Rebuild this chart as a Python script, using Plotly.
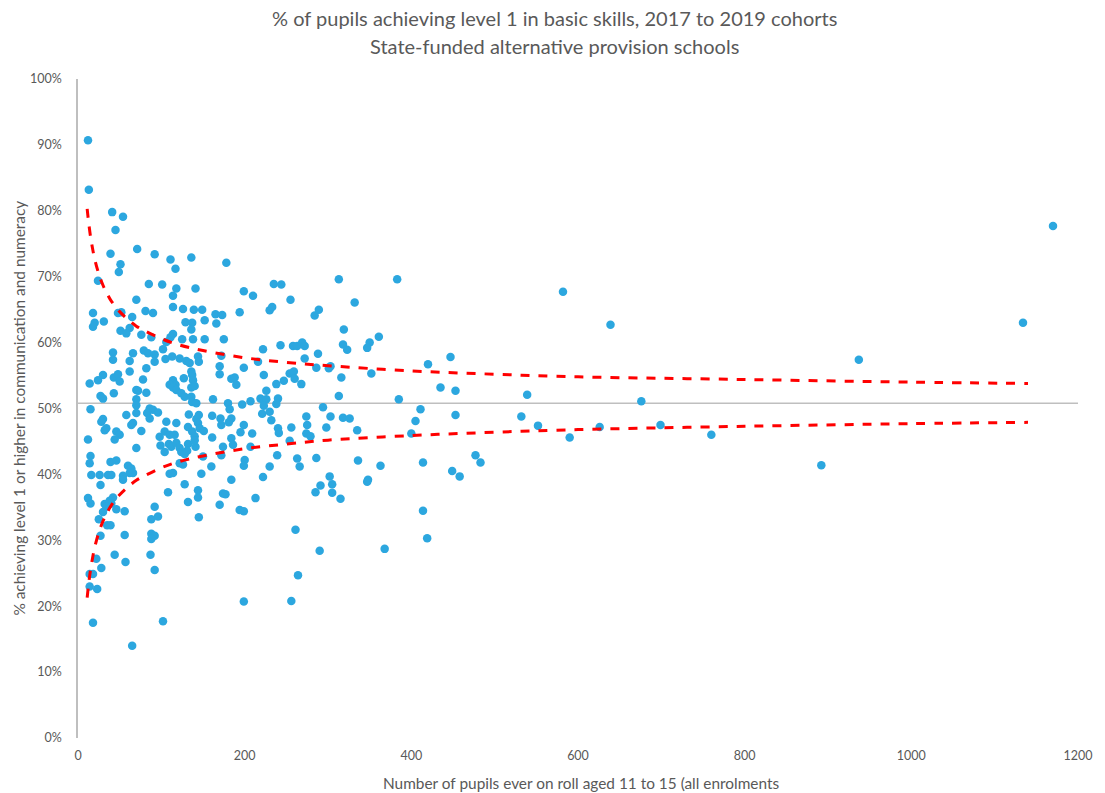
import plotly.graph_objects as go

# Schools: pupils ever on roll aged 11-15 and % achieving level 1 (communication & numeracy)
pupils = [
    12, 13, 41, 54, 45, 39, 71, 92, 111, 136, 178, 117, 51, 49, 24, 85, 101, 118, 141, 114, 70,
    199, 210, 235, 244, 313, 255, 332,
    18, 48, 52, 65, 81, 90, 114, 126, 139, 149, 165, 173, 20, 18, 31, 129, 137, 152, 166, 136,
    51, 62, 58, 76, 88, 114, 111, 125, 138, 152, 175, 106, 102, 42, 42, 66, 62, 79, 84, 92, 92,
    105, 113, 122, 130, 134, 144, 145, 172, 82, 62, 136, 24, 30, 14, 43, 48, 50, 78, 114, 117,
    110, 127, 137, 138, 170, 170, 114, 118, 124, 128, 136, 140, 27, 30, 43, 70, 72, 82, 70, 70,
    136, 137, 142, 162, 180, 15, 58, 70, 86, 90, 83, 96, 86, 30, 28, 66, 64, 76, 106, 118, 133,
    145, 142, 144, 146, 132, 137, 140, 161, 171, 172, 32, 34, 46, 50, 44, 12, 98, 104, 99, 110,
    116, 109, 112, 104, 118, 122, 132, 124, 128, 131, 141, 150, 140, 151, 161, 174, 172, 70, 15,
    14, 39, 46, 60, 64, 62, 160, 122, 126, 148, 16, 26, 36, 40, 54, 66, 110, 114,
    27, 54, 128, 144, 144, 108, 132, 174, 177, 170, 145, 12, 15, 32, 38, 42, 40, 34, 46, 56, 30,
    25, 35, 39, 27, 56, 92, 88, 96, 88, 92, 88, 22, 28, 44, 57, 87, 92, 14, 18, 14, 23, 18, 102, 65,
    194, 230, 233, 284, 289, 319, 361, 350, 347, 318, 323, 243, 258, 263, 269, 272, 222, 288, 272,
    216, 199, 286, 301, 303, 352, 316, 223, 184, 188, 190, 254, 259, 260, 268, 238, 247, 226, 313,
    240, 238, 219, 223, 226, 223, 221, 207, 197, 182, 184, 181, 230, 232, 294, 303, 318, 326, 274,
    275, 274, 279, 298, 335, 256, 240, 241, 254, 199, 195, 209, 184, 186, 207, 239, 200, 199, 263,
    266, 286, 230, 336, 363, 184, 222, 302, 348,
    213, 194, 199, 291, 285, 305, 305, 315, 347, 261, 290, 368, 264, 199, 256,
    383, 582, 447, 420, 435, 453, 539, 385, 411, 453, 405, 532, 400, 552, 590, 414, 477, 483, 449,
    458, 414, 419,
    639, 676, 626, 699, 760, 892, 937, 1134, 1170,
]
pct_level1 = [
    90.7, 83.2, 79.8, 79.1, 77.1, 73.5, 74.2, 73.4, 72.6, 72.9, 72.1, 71.2, 71.9, 70.7, 69.4, 68.9, 68.8, 68.2, 68.2, 67.1, 66.5,
    67.8, 67.1, 68.9, 68.8, 69.6, 66.5, 66.1,
    64.5, 64.5, 64.6, 63.9, 64.8, 64.5, 65.4, 65.1, 65.0, 65.0, 64.3, 64.2, 63.0, 62.4, 63.2, 63.1, 63.0, 63.4, 62.9, 62.0,
    61.8, 62.2, 61.4, 61.2, 60.8, 61.3, 60.8, 60.5, 60.5, 60.5, 60.5, 60.1, 59.0, 58.5, 57.4, 58.4, 57.2, 58.8, 58.4, 58.2, 57.1,
    57.5, 57.9, 57.6, 57.2, 56.9, 57.9, 57.1, 58.0, 56.1, 55.6, 55.6, 54.3, 55.1, 53.8, 54.7, 55.2, 54.1, 54.4, 54.3, 53.6,
    53.6, 54.6, 55.1, 54.3, 56.4, 55.2, 53.2, 52.8, 52.3, 51.8, 53.2, 53.4, 51.9, 51.5, 52.3, 52.8, 52.7, 52.4, 51.4, 50.5,
    51.8, 51.0, 50.8, 51.4, 50.8, 49.9, 49.0, 49.3, 50.0, 49.8, 49.3, 49.4, 48.5, 48.4, 48.0, 47.8, 47.5, 46.6, 48.0, 47.8, 49.1,
    49.0, 48.4, 47.8, 47.0, 47.2, 46.5, 45.8, 48.9, 48.5, 47.5, 46.7, 47.0, 46.5, 46.0, 45.3, 45.3, 45.7, 46.5, 44.4, 46.0,
    46.0, 44.6, 44.2, 43.4, 44.8, 44.0, 44.6, 43.4, 43.1, 43.6, 44.2, 42.7, 45.2, 46.6, 45.6, 44.2, 42.9, 44.0, 42.8,
    41.7, 41.9, 42.1, 41.3, 40.9, 40.2, 41.2, 41.7, 41.5, 40.1, 39.9, 39.9, 39.9, 39.9, 39.8, 40.2, 40.1, 40.2,
    38.4, 39.2, 38.5, 37.6, 36.5, 37.3, 35.8, 37.1, 37.0, 35.4, 33.5, 36.4, 35.6, 35.5, 36.0, 36.5, 35.6, 35.1, 34.7, 34.4, 34.3,
    33.2, 32.3, 32.3, 30.7, 30.8, 35.1, 33.2, 33.6, 31.0, 30.7, 30.2, 27.2, 25.8, 27.8, 26.7, 27.8, 25.5, 24.9, 24.9, 23.0, 22.6, 17.5, 17.7, 14.0,
    64.6, 64.9, 65.4, 64.1, 65.0, 62.0, 60.9, 60.0, 59.2, 59.7, 58.9, 59.6, 59.5, 59.5, 60.0, 59.5, 59.0, 58.3, 57.6,
    57.1, 56.2, 56.2, 56.1, 56.4, 55.3, 54.7, 55.1, 54.5, 54.7, 53.6, 55.3, 55.6, 54.5, 53.7, 53.7, 54.2, 52.7, 51.9,
    51.5, 50.7, 51.5, 51.1, 51.4, 50.4, 49.2, 51.1, 50.6, 49.9, 48.5, 47.9, 49.5, 48.2, 50.2, 48.8, 48.6, 48.5, 48.8,
    47.5, 46.2, 45.8, 47.1, 46.7, 47.1, 47.0, 46.3, 45.1, 47.5, 46.4, 46.2, 45.5, 44.5, 44.2, 42.9, 42.2, 41.3, 42.4,
    41.2, 42.5, 41.2, 42.1, 41.3, 39.2, 39.6, 39.7, 39.2,
    36.4, 34.6, 34.4, 38.3, 37.3, 38.5, 37.2, 36.3, 38.9, 31.6, 28.4, 28.7, 24.7, 20.7, 20.8,
    69.6, 67.7, 57.8, 56.7, 53.2, 52.7, 52.1, 51.4, 49.9, 49.0, 48.1, 48.8, 46.2, 47.4, 45.6, 41.8, 42.9, 41.8, 40.5,
    39.7, 34.5, 30.3,
    62.7, 51.1, 47.2, 47.5, 46.0, 41.4, 57.4, 63.0, 77.7,
]

# National average and 95% funnel limits
national_avg = 50.8
limit_n = [11, 12, 13, 15, 17, 20, 25, 30, 35, 40, 50, 60, 70, 80, 100, 120, 150, 200, 250,
           300, 400, 500, 600, 800, 1000, 1140]
upper_limit = [80.3, 79.1, 78.0, 76.1, 74.6, 72.7, 70.4, 68.7, 67.4, 66.3, 64.7, 63.5, 62.5, 61.8,
               60.6, 59.7, 58.8, 57.7, 57.0, 56.5, 55.7, 55.2, 54.8, 54.4, 54.0, 53.8]
lower_limit = [21.3, 22.5, 23.6, 25.5, 27.0, 28.9, 31.2, 32.9, 34.2, 35.3, 36.9, 38.1, 39.1, 39.8,
               41.0, 41.9, 42.8, 43.9, 44.6, 45.2, 45.9, 46.4, 46.8, 47.3, 47.7, 47.9]

x_ticks = [0, 200, 400, 600, 800, 1000, 1200]
y_ticks = [0, 10, 20, 30, 40, 50, 60, 70, 80, 90, 100]
y_tick_labels = ["0%", "10%", "20%", "30%", "40%", "50%", "60%", "70%", "80%", "90%", "100%"]

FONT = "Lato, Open Sans, sans-serif"
GREY = "#595959"

fig = go.Figure()

fig.add_trace(go.Scatter(
    x=[0, 1200], y=[national_avg, national_avg], mode="lines",
    line=dict(color="#BFBFBF", width=1.5), hoverinfo="skip",
))
fig.add_trace(go.Scatter(
    x=pupils, y=pct_level1, mode="markers",
    marker=dict(color="#2CA7DF", size=8.5, line=dict(width=0)),
))
for lim in (upper_limit, lower_limit):
    fig.add_trace(go.Scatter(
        x=limit_n, y=lim, mode="lines", line_shape="spline",
        line=dict(color="#FF0000", width=3, dash="dash"),
    ))

fig.update_xaxes(
    range=[0, 1200], tickmode="array", tickvals=x_ticks, ticktext=[str(v) for v in x_ticks],
    showgrid=False, zeroline=False, showline=False,
    tickfont=dict(family=FONT, size=12.5, color=GREY), ticklabelstandoff=8,
)
fig.update_yaxes(
    range=[0, 100], tickmode="array", tickvals=y_ticks, ticktext=y_tick_labels,
    showgrid=False, zeroline=False,
    showline=True, linecolor="#BFBFBF", linewidth=1.5,
    tickfont=dict(family=FONT, size=12.5, color=GREY), ticklabelstandoff=12,
)

annotations = [
    dict(text="% of pupils achieving level 1 in basic skills, 2017 to 2019 cohorts",
         x=0.476, y=1.0926, font=dict(size=20)),
    dict(text="State-funded alternative provision schools",
         x=0.476, y=1.0501, font=dict(size=20)),
    dict(text="Number of pupils ever on roll aged 11 to 15 (all enrolments",
         x=0.503, y=-0.0683, font=dict(size=15.4)),
    dict(text="% achieving level 1 or higher in communication and numeracy",
         x=-0.0599, y=0.5, textangle=-90, font=dict(size=15.4)),
]
for a in annotations:
    a.update(xref="paper", yref="paper", showarrow=False, xanchor="center", yanchor="middle")
    a["font"].update(family=FONT, color=GREY)

fig.update_layout(
    width=1105, height=793, margin=dict(l=78, r=25, t=79, b=55),
    plot_bgcolor="white", paper_bgcolor="white", showlegend=False,
    annotations=annotations,
)

fig.write_html("out.html")
